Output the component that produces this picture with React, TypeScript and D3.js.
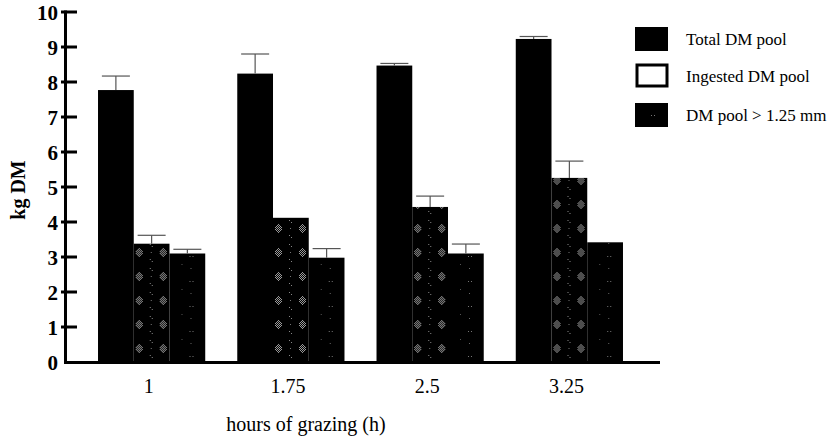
import React from "react";
import * as d3 from "d3";

// Grazing-time categories (h)
const categories = ["1", "1.75", "2.5", "3.25"];
const seriesNames = ["Total DM pool", "Ingested DM pool", "DM pool > 1.25 mm"];

// Pool sizes (kg DM) and their standard errors
const totalPool = [7.77, 8.24, 8.47, 9.23];
const totalErr = [0.4, 0.56, 0.06, 0.07];
const ingestedPool = [3.38, 4.12, 4.43, 5.26];
const ingestedErr = [0.24, 0, 0.31, 0.48];
const coarsePool = [3.1, 2.98, 3.1, 3.42];
const coarseErr = [0.12, 0.26, 0.27, 0];

const yTicks = [0, 1, 2, 3, 4, 5, 6, 7, 8, 9, 10];

const FONT = "'Liberation Serif', 'Times New Roman', serif";

const W = 839;
const H = 443;

export default function App() {
  const y = d3.scaleLinear().domain([0, 10]).range([362, 12]);
  const x0 = d3
    .scaleBand<string>()
    .domain(categories)
    .range([82, 639])
    .paddingInner(0.23)
    .paddingOuter(0.115);
  const x1 = d3
    .scaleBand<string>()
    .domain(seriesNames)
    .range([0, x0.bandwidth()])
    .padding(0);

  const values = [totalPool, ingestedPool, coarsePool];
  const errors = [totalErr, ingestedErr, coarseErr];

  const bars: {
    key: string;
    x: number;
    w: number;
    v: number;
    e: number;
    s: number;
  }[] = [];
  categories.forEach((c, ci) => {
    seriesNames.forEach((s, si) => {
      bars.push({
        key: `${ci}-${si}`,
        x: (x0(c) ?? 0) + (x1(s) ?? 0),
        w: x1.bandwidth(),
        v: values[si][ci],
        e: errors[si][ci],
        s: si,
      });
    });
  });

  // stipple cluster for the ingested-pool fill
  const diamond: [number, number][] = [];
  for (let dx = -3; dx <= 3; dx++) {
    for (let dy = -4; dy <= 4; dy++) {
      if (Math.abs(dx) + Math.abs(dy) <= 4 && (dx + dy) % 2 === 0) {
        diamond.push([dx, dy]);
      }
    }
  }

  const yBase = y(0);

  return (
    <svg width={W} height={H} style={{ display: "block", position: "absolute", left: 0, top: 0 }}>
      <defs>
        {bars
          .filter((b) => b.s === 1)
          .map((b) => (
            <pattern
              key={"pi" + b.key}
              id={"pi" + b.key}
              patternUnits="userSpaceOnUse"
              x={b.x}
              y={0}
              width={24}
              height={24}
            >
              <rect width={24} height={24} fill="#000" />
              {diamond.map(([dx, dy], i) => (
                <rect key={i} x={5 + dx} y={12 + dy} width={1} height={1} fill="#9a9a9a" />
              ))}
              <rect x={16} y={4} width={1} height={1} fill="#888" />
              <rect x={18} y={6} width={1} height={1} fill="#888" />
              <rect x={17} y={12} width={1} height={1} fill="#777" />
              <rect x={16} y={19} width={1} height={1} fill="#888" />
              <rect x={18} y={21} width={1} height={1} fill="#888" />
            </pattern>
          ))}
        {bars
          .filter((b) => b.s === 2)
          .map((b) => (
            <pattern
              key={"pc" + b.key}
              id={"pc" + b.key}
              patternUnits="userSpaceOnUse"
              x={b.x}
              y={0}
              width={36}
              height={25}
            >
              <rect width={36} height={25} fill="#000" />
              <rect x={20} y={6} width={1} height={1} fill="#777" />
              <rect x={23} y={6} width={1} height={1} fill="#777" />
              <rect x={21} y={18} width={1} height={1} fill="#666" />
              <rect x={12} y={14} width={1} height={1} fill="#555" />
            </pattern>
          ))}
      </defs>

      <rect width={W} height={H} fill="#fff" />

      {/* bars */}
      {bars.map((b) => (
        <rect
          key={b.key}
          x={b.x}
          y={y(b.v)}
          width={b.w}
          height={yBase - y(b.v)}
          fill={b.s === 0 ? "#000" : b.s === 1 ? `url(#pi${b.key})` : `url(#pc${b.key})`}
        />
      ))}

      {/* error bars (upper arm) */}
      {bars
        .filter((b) => b.e > 0)
        .map((b) => {
          const cx = b.x + b.w / 2;
          const top = y(b.v + b.e);
          return (
            <g key={"e" + b.key} stroke="#555" strokeWidth={1.2}>
              <line x1={cx} x2={cx} y1={y(b.v)} y2={top} />
              <line x1={cx - 14} x2={cx + 14} y1={top} y2={top} />
            </g>
          );
        })}

      {/* axes */}
      <line x1={65.5} x2={65.5} y1={10.5} y2={363.5} stroke="#000" strokeWidth={3} />
      <line x1={64} x2={660} y1={362.5} y2={362.5} stroke="#000" strokeWidth={3} />
      {yTicks.map((t) => (
        <g key={t}>
          {t > 0 && (
            <line x1={61} x2={77} y1={y(t)} y2={y(t)} stroke="#000" strokeWidth={3} />
          )}
          <text
            x={58}
            y={y(t)}
            dy="0.36em"
            textAnchor="end"
            fontFamily={FONT}
            fontWeight="bold"
            fontSize={21}
            fill="#000"
          >
            {t}
          </text>
        </g>
      ))}

      {/* category labels */}
      {categories.map((c) => (
        <text
          key={c}
          x={(x0(c) ?? 0) + x0.bandwidth() / 2 - 3}
          y={393}
          textAnchor="middle"
          fontFamily={FONT}
          fontSize={20}
          fill="#000"
        >
          {c}
        </text>
      ))}

      <text x={306} y={431} textAnchor="middle" fontFamily={FONT} fontSize={20} fill="#000">
        hours of grazing (h)
      </text>
      <text
        transform="translate(25,190) rotate(-90)"
        textAnchor="middle"
        fontFamily={FONT}
        fontWeight="bold"
        fontSize={20}
        fill="#000"
      >
        kg DM
      </text>

      {/* legend */}
      {seriesNames.map((s, i) => {
        const top = [27, 64, 103][i];
        return (
          <g key={s}>
            {i === 1 ? (
              <rect x={637} y={top + 1} width={30} height={21} fill="#fff" stroke="#000" strokeWidth={3} />
            ) : (
              <rect x={635} y={top} width={33} height={24} fill="#000" />
            )}
            {i === 2 && (
              <>
                <rect x={651} y={top + 12} width={1} height={1} fill="#777" />
                <rect x={654} y={top + 12} width={1} height={1} fill="#777" />
              </>
            )}
            <text x={686} y={top + 18} fontFamily={FONT} fontSize={17} fill="#000">
              {s}
            </text>
          </g>
        );
      })}
    </svg>
  );
}
